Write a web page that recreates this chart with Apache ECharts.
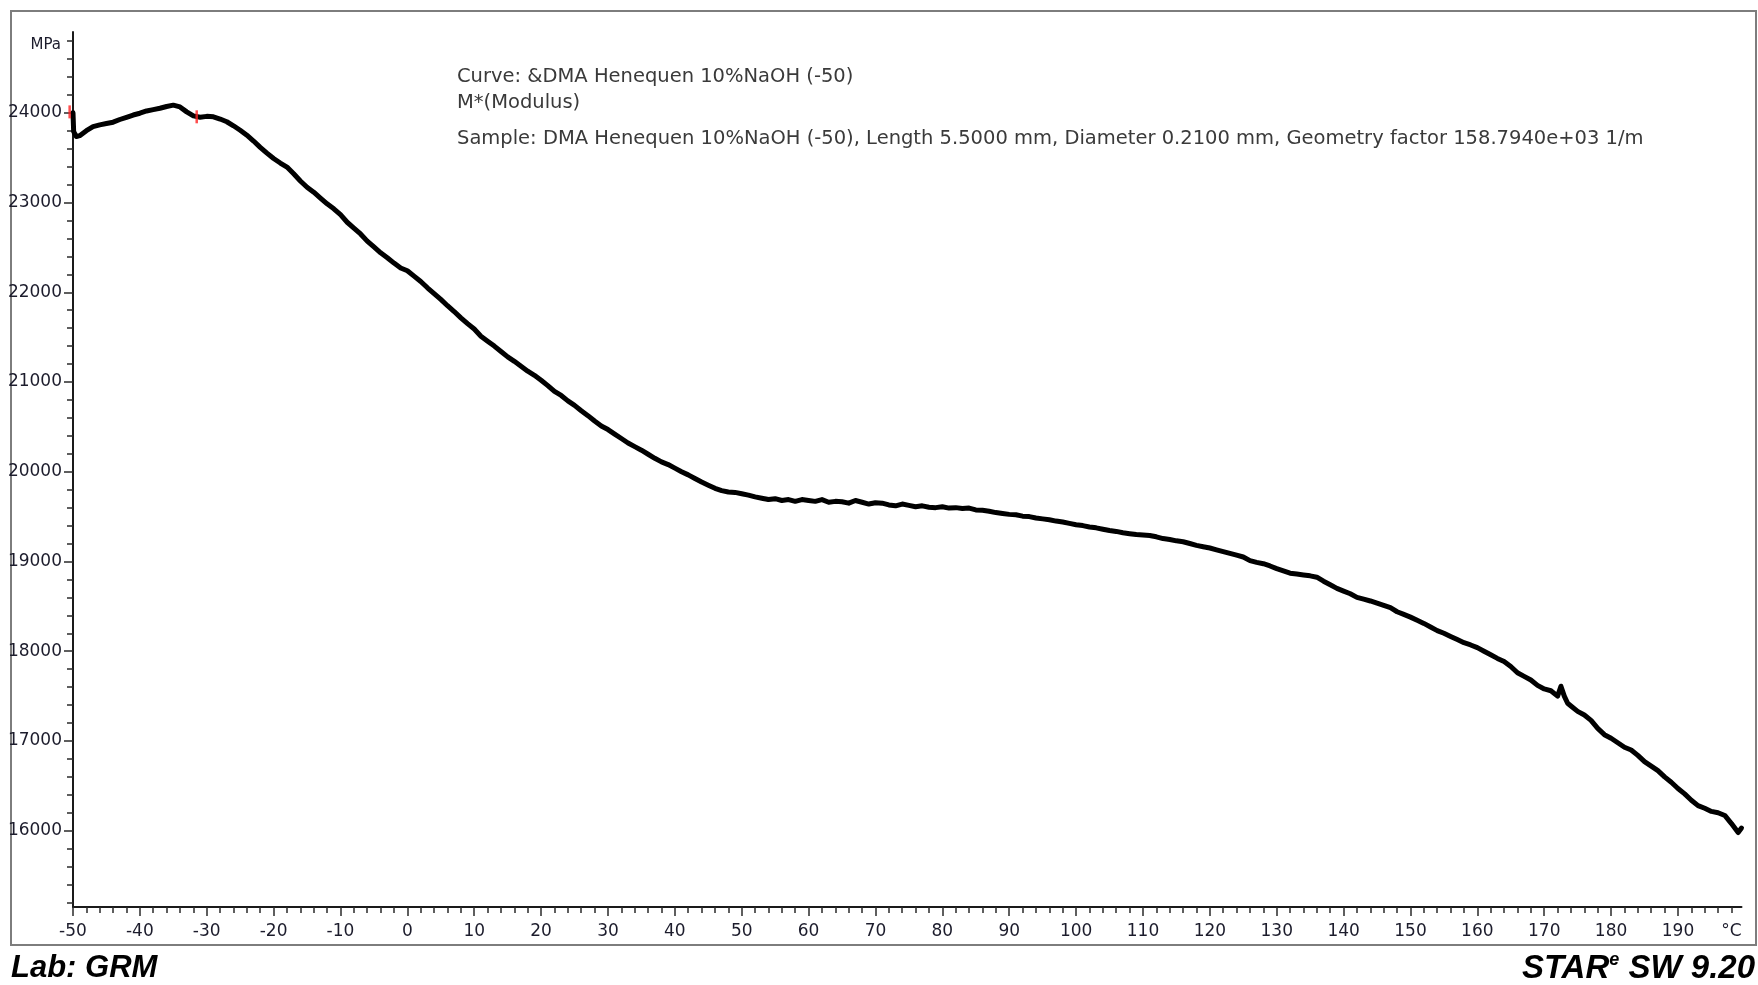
<!DOCTYPE html>
<html>
<head>
<meta charset="utf-8">
<script src="https://cdn.jsdelivr.net/npm/echarts@6/dist/echarts.min.js"></script>
<style>
  html, body { margin: 0; padding: 0; background: #fff; }
  #chart { width: 1758px; height: 985px; }
</style>
</head>
<body>
<div id="chart"></div>
<script>
// DMA run: complex modulus M* (MPa) against temperature (°C)
const temperature = [
  -50, -49.9, -49.5, -49, -48, -47, -46, -45, -44, -43, -42, -41, -40, -39, -38, -37, -36, -35, -34, -33,
  -32, -31, -30, -29, -28, -27, -26, -25, -24, -23, -22, -21, -20, -19, -18, -17, -16, -15, -14, -13,
  -12, -11, -10, -9, -8, -7, -6, -5, -4, -3, -2, -1, 0, 1, 2, 3, 4, 5, 6, 7,
  8, 9, 10, 11, 12, 13, 14, 15, 16, 17, 18, 19, 20, 21, 22, 23, 24, 25, 26, 27,
  28, 29, 30, 31, 32, 33, 34, 35, 36, 37, 38, 39, 40, 41, 42, 43, 44, 45, 46, 47,
  48, 49, 50, 51, 52, 53, 54, 55, 56, 57, 58, 59, 60, 61, 62, 63, 64, 65, 66, 67,
  68, 69, 70, 71, 72, 73, 74, 75, 76, 77, 78, 79, 80, 81, 82, 83, 84, 85, 86, 87,
  88, 89, 90, 91, 92, 93, 94, 95, 96, 97, 98, 99, 100, 101, 102, 103, 104, 105, 106, 107,
  108, 109, 110, 111, 112, 113, 114, 115, 116, 117, 118, 119, 120, 121, 122, 123, 124, 125, 126, 127,
  128, 129, 130, 131, 132, 133, 134, 135, 136, 137, 138, 139, 140, 141, 142, 143, 144, 145, 146, 147,
  148, 149, 150, 151, 152, 153, 154, 155, 156, 157, 158, 159, 160, 161, 162, 163, 164, 165, 166, 167,
  168, 169, 170, 171, 172, 172.5, 173, 173.5, 174, 175, 176, 177, 178, 179, 180, 181, 182, 183, 184, 185,
  186, 187, 188, 189, 190, 191, 192, 193, 194, 195, 196, 197, 198, 199, 199.5
];
const modulus = [
  24000, 23790, 23735, 23745, 23800, 23845, 23865, 23880, 23895, 23925, 23950, 23975, 23995, 24020, 24035, 24050, 24070, 24085, 24065, 24010,
  23965, 23950, 23960, 23955, 23930, 23900, 23855, 23805, 23750, 23685, 23615, 23550, 23490, 23440, 23395, 23320, 23240, 23170, 23115, 23050,
  22985, 22930, 22865, 22780, 22715, 22650, 22570, 22505, 22440, 22385, 22325, 22270, 22240, 22180, 22120, 22050, 21985, 21920, 21850, 21785,
  21715, 21650, 21590, 21510, 21455, 21400, 21340, 21280, 21230, 21175, 21120, 21075, 21020, 20960, 20895, 20850, 20790, 20740, 20680, 20625,
  20565, 20510, 20470, 20420, 20370, 20320, 20280, 20240, 20195, 20150, 20110, 20080, 20040, 20000, 19965, 19925, 19885, 19850, 19815, 19790,
  19775, 19770, 19755, 19740, 19720, 19705, 19690, 19700, 19680, 19690, 19670, 19690, 19680, 19670, 19690, 19660, 19670, 19665, 19650, 19680,
  19660, 19640, 19655, 19650, 19630, 19620, 19640, 19625, 19610, 19620, 19605, 19600, 19610, 19595, 19600, 19590, 19595, 19575, 19570, 19560,
  19545, 19535, 19525, 19520, 19505, 19500, 19485, 19475, 19465, 19450, 19440, 19425, 19410, 19400, 19385, 19375, 19360, 19345, 19335, 19320,
  19310, 19300, 19295, 19290, 19275, 19255, 19245, 19230, 19220, 19200, 19180, 19165, 19150, 19130, 19110, 19090, 19070, 19050, 19010, 18990,
  18975, 18950, 18920, 18895, 18870, 18860, 18850, 18840, 18825, 18780, 18740, 18700, 18670, 18640, 18600, 18580, 18560, 18535, 18510, 18485,
  18440, 18410, 18380, 18345, 18310, 18270, 18230, 18200, 18165, 18130, 18095, 18070, 18040, 18000, 17960, 17920, 17885, 17830, 17760, 17720,
  17680, 17620, 17580, 17560, 17500, 17610, 17500, 17420, 17390, 17330, 17290, 17230, 17140, 17070, 17030, 16980, 16930, 16900, 16840, 16770,
  16720, 16670, 16600, 16540, 16470, 16410, 16340, 16280, 16250, 16215, 16200, 16170, 16080, 15980, 16030
];

// red limit marks on the curve
const limitMarks = [[-50.5, 24010], [-31.5, 23955]];

// axis ticks and labels
const xLabelValues = [-50, -40, -30, -20, -10, 0, 10, 20, 30, 40, 50, 60, 70, 80, 90, 100, 110, 120, 130, 140, 150, 160, 170, 180, 190];
const xUnitPos = 198;
const yLabelValues = [16000, 17000, 18000, 19000, 20000, 21000, 22000, 23000, 24000];

const xMinorTicks = [];
for (let v = -50; v <= 198; v += 2) xMinorTicks.push(v);
const yMinorTicks = [];
for (let v = 15200; v <= 24800; v += 200) yMinorTicks.push(v);

const FONT = '"DejaVu Sans", Verdana, sans-serif';
const curveData = temperature.map((t, i) => [t, modulus[i]]);

const chart = echarts.init(document.getElementById('chart'), null, { renderer: 'canvas' });

const tickStyle = { color: '#2a2a2a', width: 1.5 };

chart.setOption({
  animation: false,
  backgroundColor: '#ffffff',
  grid: { left: 73, right: 16.5, top: 32, bottom: 78 },
  xAxis: [
    {
      type: 'value', min: -50, max: 199.5, position: 'bottom',
      axisLine: { show: true, onZero: false, lineStyle: { color: '#1a1a1a', width: 2 } },
      axisTick: { show: true, customValues: xMinorTicks, length: 6, lineStyle: tickStyle },
      axisLabel: {
        customValues: xLabelValues.concat([xUnitPos]),
        formatter: v => (v === xUnitPos ? '°C' : String(v)),
        margin: 16, fontFamily: FONT, fontSize: 17, color: '#1c1c2c'
      },
      splitLine: { show: false }
    },
    {
      type: 'value', min: -50, max: 199.5, position: 'bottom',
      axisLine: { show: false, onZero: false },
      axisTick: { show: true, customValues: xLabelValues, length: 9, lineStyle: tickStyle },
      axisLabel: { show: false },
      splitLine: { show: false }
    }
  ],
  yAxis: [
    {
      type: 'value', min: 15150, max: 24900, position: 'left',
      axisLine: { show: true, onZero: false, lineStyle: { color: '#1a1a1a', width: 2 } },
      axisTick: { show: true, customValues: yMinorTicks, length: 6, lineStyle: tickStyle },
      axisLabel: {
        customValues: yLabelValues,
        formatter: v => String(v),
        margin: 11, fontFamily: FONT, fontSize: 17, color: '#1c1c2c'
      },
      splitLine: { show: false }
    },
    {
      type: 'value', min: 15150, max: 24900, position: 'left',
      axisLine: { show: false, onZero: false },
      axisTick: { show: true, customValues: yLabelValues, length: 9, lineStyle: tickStyle },
      axisLabel: { show: false },
      splitLine: { show: false }
    }
  ],
  series: [
    {
      type: 'line',
      xAxisIndex: 0, yAxisIndex: 0,
      data: curveData,
      showSymbol: false,
      smooth: false,
      lineStyle: { color: '#000', width: 5, join: 'round', cap: 'round' },
      z: 3
    },
    {
      type: 'scatter',
      xAxisIndex: 0, yAxisIndex: 0,
      data: limitMarks,
      symbol: 'rect',
      symbolSize: [2.5, 13],
      itemStyle: { color: '#ff2020' },
      clip: false,
      z: 4
    }
  ],
  graphic: [
    {
      type: 'rect', silent: true,
      shape: { x: 11, y: 11, width: 1745, height: 934 },
      style: { fill: 'none', stroke: '#7d7d7d', lineWidth: 2 }
    },
    {
      type: 'text', silent: true,
      style: { x: 61, y: 45, text: 'MPa', font: '15px ' + FONT, fill: '#1c1c2c', align: 'right', verticalAlign: 'middle' }
    },
    {
      type: 'text', silent: true,
      style: { x: 457, y: 77, text: 'Curve: &DMA Henequen 10%NaOH (-50)', font: '19.5px ' + FONT, fill: '#3a3a3a', verticalAlign: 'middle' }
    },
    {
      type: 'text', silent: true,
      style: { x: 457, y: 103, text: 'M*(Modulus)', font: '19.5px ' + FONT, fill: '#3a3a3a', verticalAlign: 'middle' }
    },
    {
      type: 'text', silent: true,
      style: {
        x: 457, y: 139,
        text: 'Sample: DMA Henequen 10%NaOH (-50), Length 5.5000 mm, Diameter 0.2100 mm, Geometry factor 158.7940e+03 1/m',
        font: '19.5px ' + FONT, fill: '#3a3a3a', verticalAlign: 'middle'
      }
    },
    {
      type: 'text', silent: true,
      style: {
        x: 11, y: 968, text: 'Lab: GRM',
        font: 'italic bold 31px "Liberation Sans", Arial, sans-serif', fill: '#000', verticalAlign: 'middle'
      }
    },
    {
      type: 'text', silent: true,
      style: {
        x: 1755, y: 968, align: 'right', verticalAlign: 'middle',
        text: '{k|S}{r|TA}{k|R}{e|e}{k| SW 9.20}',
        rich: {
          k: { fontFamily: '"Liberation Sans", Arial, sans-serif', fontStyle: 'italic', fontWeight: 'bold', fontSize: 33, color: '#000', verticalAlign: 'bottom', lineHeight: 34 },
          r: { fontFamily: '"Liberation Sans", Arial, sans-serif', fontStyle: 'italic', fontWeight: 'bold', fontSize: 33, color: '#ff0000', verticalAlign: 'bottom', lineHeight: 34 },
          e: { fontFamily: '"Liberation Sans", Arial, sans-serif', fontStyle: 'italic', fontWeight: 'bold', fontSize: 18, color: '#ff0000', verticalAlign: 'top', lineHeight: 20 }
        }
      }
    }
  ]
});
</script>
</body>
</html>
